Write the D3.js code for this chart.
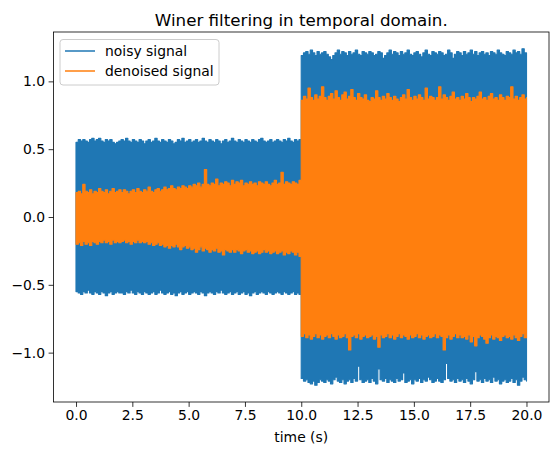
<!DOCTYPE html>
<html>
<head>
<meta charset="utf-8">
<script src="https://cdn.jsdelivr.net/npm/d3@7"></script>
<style>
	body { margin: 0; background: #fff; }
	svg { font-family: "DejaVu Sans", sans-serif; }
</style>
</head>
<body>
<div id="chart"></div>
<script>
// envelope of each signal, one value every 0.1 s from 0 to 20 s
const noisyUpper = [
	0.55,0.57,0.56,0.57,0.56,0.55,0.57,0.58,0.56,0.57,
	0.58,0.56,0.55,0.57,0.56,0.57,0.55,0.54,0.55,0.56,
	0.57,0.56,0.58,0.56,0.55,0.57,0.56,0.55,0.57,0.56,
	0.54,0.56,0.57,0.55,0.56,0.58,0.56,0.55,0.57,0.56,
	0.55,0.57,0.56,0.54,0.55,0.57,0.56,0.58,0.55,0.56,
	0.57,0.55,0.56,0.57,0.55,0.56,0.58,0.56,0.55,0.57,
	0.56,0.55,0.57,0.56,0.54,0.56,0.57,0.55,0.56,0.58,
	0.56,0.55,0.57,0.56,0.55,0.57,0.56,0.55,0.57,0.56,
	0.55,0.57,0.58,0.56,0.55,0.56,0.57,0.55,0.56,0.57,
	0.56,0.55,0.57,0.56,0.58,0.56,0.55,0.57,0.56,0.57,
	1.19,1.21,1.22,1.20,1.23,1.21,1.19,1.22,1.20,1.21,
	1.22,1.20,1.18,1.16,1.19,1.21,1.23,1.20,1.22,1.21,
	1.19,1.22,1.20,1.21,1.23,1.20,1.19,1.22,1.21,1.20,
	1.22,1.21,1.19,1.20,1.22,1.21,1.17,1.19,1.21,1.23,
	1.20,1.22,1.21,1.19,1.22,1.20,1.21,1.23,1.20,1.19,
	1.21,1.22,1.20,1.18,1.21,1.23,1.20,1.19,1.22,1.21,
	1.20,1.22,1.21,1.19,1.20,1.23,1.21,1.17,1.20,1.22,
	1.21,1.19,1.22,1.20,1.21,1.23,1.20,1.22,1.19,1.21,
	1.22,1.20,1.21,1.19,1.22,1.21,1.20,1.23,1.21,1.20,
	1.19,1.22,1.21,1.20,1.23,1.21,1.22,1.20,1.24,1.21,
	1.21
];
const noisyLower = [
	-0.55,-0.56,-0.57,-0.55,-0.56,-0.54,-0.56,-0.57,-0.55,-0.56,
	-0.57,-0.55,-0.56,-0.58,-0.56,-0.55,-0.57,-0.56,-0.55,-0.56,
	-0.56,-0.57,-0.55,-0.56,-0.54,-0.56,-0.57,-0.55,-0.56,-0.57,
	-0.55,-0.56,-0.57,-0.56,-0.55,-0.57,-0.56,-0.54,-0.56,-0.57,
	-0.56,-0.55,-0.57,-0.56,-0.58,-0.56,-0.55,-0.57,-0.56,-0.55,
	-0.57,-0.56,-0.55,-0.56,-0.57,-0.55,-0.56,-0.58,-0.56,-0.55,
	-0.56,-0.57,-0.55,-0.56,-0.54,-0.56,-0.57,-0.56,-0.55,-0.57,
	-0.56,-0.55,-0.57,-0.56,-0.55,-0.57,-0.56,-0.58,-0.56,-0.55,
	-0.57,-0.56,-0.55,-0.56,-0.57,-0.55,-0.56,-0.57,-0.56,-0.55,
	-0.56,-0.57,-0.55,-0.56,-0.57,-0.56,-0.55,-0.57,-0.56,-0.57,
	-1.19,-1.21,-1.20,-1.22,-1.23,-1.21,-1.24,-1.22,-1.20,-1.21,
	-1.22,-1.20,-1.21,-1.23,-1.20,-1.18,-1.21,-1.22,-1.20,-1.23,
	-1.21,-1.20,-1.22,-1.19,-1.21,-1.10,-1.20,-1.22,-1.21,-1.20,
	-1.22,-1.19,-1.21,-1.23,-1.12,-1.20,-1.21,-1.19,-1.22,-1.20,
	-1.21,-1.22,-1.19,-1.21,-1.20,-1.15,-1.22,-1.21,-1.20,-1.23,
	-1.20,-1.21,-1.19,-1.22,-1.20,-1.21,-1.18,-1.20,-1.22,-1.21,
	-1.19,-1.21,-1.22,-1.20,-1.08,-1.19,-1.21,-1.20,-1.22,-1.19,
	-1.21,-1.20,-1.22,-1.19,-1.21,-1.23,-1.20,-1.14,-1.21,-1.20,
	-1.22,-1.19,-1.21,-1.20,-1.22,-1.18,-1.21,-1.20,-1.23,-1.21,
	-1.20,-1.22,-1.21,-1.19,-1.22,-1.20,-1.24,-1.21,-1.18,-1.20,
	-1.21
];
const denoisedUpper = [
	0.18,0.19,0.17,0.24,0.19,0.18,0.20,0.17,0.19,0.18,
	0.21,0.19,0.18,0.20,0.17,0.19,0.21,0.18,0.19,0.20,
	0.18,0.20,0.19,0.17,0.19,0.20,0.18,0.21,0.19,0.18,
	0.20,0.19,0.22,0.19,0.18,0.20,0.21,0.19,0.20,0.22,
	0.20,0.21,0.23,0.21,0.20,0.22,0.21,0.23,0.22,0.21,
	0.23,0.22,0.24,0.23,0.25,0.22,0.24,0.35,0.24,0.23,
	0.25,0.24,0.28,0.23,0.25,0.24,0.26,0.25,0.23,0.27,
	0.24,0.26,0.25,0.27,0.23,0.25,0.24,0.26,0.24,0.25,
	0.23,0.26,0.25,0.24,0.26,0.24,0.23,0.25,0.27,0.24,
	0.25,0.33,0.24,0.26,0.25,0.24,0.26,0.25,0.24,0.27,
	0.86,0.89,0.87,0.95,0.88,0.86,0.90,0.87,0.89,0.96,
	0.88,0.86,0.89,0.91,0.87,0.93,0.88,0.86,0.90,0.92,
	0.87,0.89,0.94,0.88,0.86,0.91,0.88,0.87,0.90,0.86,
	0.85,0.88,0.87,0.93,0.88,0.86,0.89,0.87,0.91,0.88,
	0.86,0.89,0.87,0.85,0.88,0.90,0.87,0.94,0.88,0.86,
	0.89,0.87,0.90,0.88,0.86,0.95,0.87,0.89,0.88,0.86,
	0.88,0.96,0.87,0.90,0.88,0.86,0.89,0.92,0.87,0.88,
	0.86,0.89,0.87,0.91,0.88,0.85,0.88,0.87,0.89,0.92,
	0.87,0.88,0.86,0.89,0.91,0.87,0.88,0.86,0.90,0.88,
	0.86,0.89,0.88,0.96,0.87,0.89,0.86,0.88,0.90,0.87,
	0.88
];
const denoisedLower = [
	-0.20,-0.19,-0.21,-0.18,-0.20,-0.19,-0.21,-0.18,-0.19,-0.20,
	-0.18,-0.19,-0.17,-0.19,-0.18,-0.20,-0.17,-0.19,-0.18,-0.19,
	-0.18,-0.17,-0.19,-0.18,-0.20,-0.18,-0.19,-0.17,-0.19,-0.18,
	-0.19,-0.18,-0.20,-0.19,-0.21,-0.20,-0.19,-0.21,-0.20,-0.22,
	-0.21,-0.23,-0.21,-0.22,-0.20,-0.22,-0.24,-0.22,-0.21,-0.23,
	-0.22,-0.24,-0.23,-0.26,-0.24,-0.22,-0.25,-0.23,-0.24,-0.26,
	-0.24,-0.25,-0.23,-0.26,-0.25,-0.28,-0.24,-0.25,-0.26,-0.24,
	-0.26,-0.24,-0.25,-0.27,-0.25,-0.24,-0.26,-0.25,-0.27,-0.26,
	-0.25,-0.27,-0.26,-0.24,-0.26,-0.25,-0.27,-0.26,-0.25,-0.27,
	-0.26,-0.25,-0.28,-0.26,-0.27,-0.25,-0.26,-0.28,-0.26,-0.29,
	-0.88,-0.86,-0.89,-0.87,-0.90,-0.88,-0.86,-0.89,-0.87,-0.90,
	-0.88,-0.87,-0.89,-0.86,-0.88,-0.90,-0.87,-0.89,-0.88,-0.86,
	-0.89,-0.98,-0.88,-0.87,-0.89,-0.86,-0.90,-0.88,-0.87,-0.89,
	-0.88,-0.87,-0.90,-0.88,-0.96,-0.87,-0.89,-0.88,-0.86,-0.89,
	-0.87,-0.90,-0.88,-0.86,-0.89,-0.87,-0.88,-0.90,-0.87,-0.89,
	-0.88,-0.86,-0.89,-0.87,-0.90,-0.88,-0.87,-0.89,-0.88,-0.86,
	-0.89,-0.87,-0.88,-0.98,-0.89,-0.87,-0.90,-0.88,-0.86,-0.89,
	-0.87,-0.89,-0.88,-0.90,-0.87,-0.92,-0.88,-0.95,-0.89,-0.87,
	-0.88,-0.90,-0.93,-0.89,-0.87,-0.90,-0.88,-0.89,-0.91,-0.88,
	-0.87,-0.89,-0.88,-0.90,-0.87,-0.89,-0.91,-0.88,-0.86,-0.89,
	-0.88
];
const times = d3.range(noisyUpper.length).map(i => i / 10);
const xTicks = [0, 2.5, 5, 7.5, 10, 12.5, 15, 17.5, 20];
const yTicks = [-1, -0.5, 0, 0.5, 1];
const seriesNames = ["noisy signal", "denoised signal"];
const seriesColors = ["#1f77b4", "#ff7f0e"];

const width = 559, height = 455;
const margin = {top: 32, right: 10, bottom: 53, left: 53.5};

const svg = d3.select("#chart").append("svg")
	.attr("width", width)
	.attr("height", height);

const x = d3.scaleLinear()
	.domain([-1, 21])
	.range([margin.left, width - margin.right]);
const y = d3.scaleLinear()
	.domain([-1.364, 1.364])
	.range([height - margin.bottom, margin.top]);

const fmt = v => d3.format(".1f")(v).replace("-", "\u2212");

const series = [
	{name: seriesNames[0], color: seriesColors[0], hi: noisyUpper, lo: noisyLower},
	{name: seriesNames[1], color: seriesColors[1], hi: denoisedUpper, lo: denoisedLower}
];

const area = d3.area()
	.x(d => x(d.t))
	.y0(d => y(d.lo))
	.y1(d => y(d.hi))
	.curve(d3.curveStepAfter);

series.forEach(s => {
	const rows = times.map((t, i) => ({t, hi: s.hi[i], lo: s.lo[i]}));
	svg.append("path")
		.datum(rows)
		.attr("d", area)
		.attr("fill", s.color)
		.attr("stroke", s.color)
		.attr("stroke-width", 1.2)
		.attr("stroke-linejoin", "round");
});

// axes
let xAxis = g => g
	.attr("transform", `translate(0,${height - margin.bottom})`)
	.call(d3.axisBottom(x).tickValues(xTicks).tickFormat(fmt).tickSize(4.9).tickPadding(3.5));
let yAxis = g => g
	.attr("transform", `translate(${margin.left},0)`)
	.call(d3.axisLeft(y).tickValues(yTicks).tickFormat(fmt).tickSize(4.9).tickPadding(3.5));

[xAxis, yAxis].forEach(ax => {
	const g = svg.append("g")
		.style("font", "13.9px 'DejaVu Sans'")
		.call(ax);
	g.select(".domain").remove();
	g.selectAll(".tick line").attr("stroke", "#000").attr("stroke-width", 0.8);
	g.selectAll(".tick text").attr("fill", "#000");
});

svg.append("rect")
	.attr("x", margin.left)
	.attr("y", margin.top)
	.attr("width", width - margin.right - margin.left)
	.attr("height", height - margin.bottom - margin.top)
	.attr("fill", "none")
	.attr("stroke", "#000")
	.attr("stroke-width", 0.8);

// title and label
svg.append("text")
	.attr("x", (margin.left + width - margin.right) / 2)
	.attr("y", 26)
	.attr("text-anchor", "middle")
	.style("font", "16.7px 'DejaVu Sans'")
	.text("Winer filtering in temporal domain.");

svg.append("text")
	.attr("x", (margin.left + width - margin.right) / 2)
	.attr("y", 442)
	.attr("text-anchor", "middle")
	.style("font", "13.9px 'DejaVu Sans'")
	.text("time (s)");

// legend
const legend = svg.append("g").attr("transform", "translate(60,39.5)");
legend.append("rect")
	.attr("width", 159)
	.attr("height", 45.5)
	.attr("rx", 3)
	.attr("fill", "#fff")
	.attr("fill-opacity", 0.8)
	.attr("stroke", "#ccc")
	.attr("stroke-width", 1);
series.forEach((s, i) => {
	const row = legend.append("g").attr("transform", `translate(0,${11.5 + i * 20})`);
	row.append("line")
		.attr("x1", 5).attr("x2", 35)
		.attr("stroke", s.color)
		.attr("stroke-width", 1.5);
	row.append("text")
		.attr("x", 45)
		.attr("y", 5)
		.style("font", "13.9px 'DejaVu Sans'")
		.text(s.name);
});
</script>
</body>
</html>
